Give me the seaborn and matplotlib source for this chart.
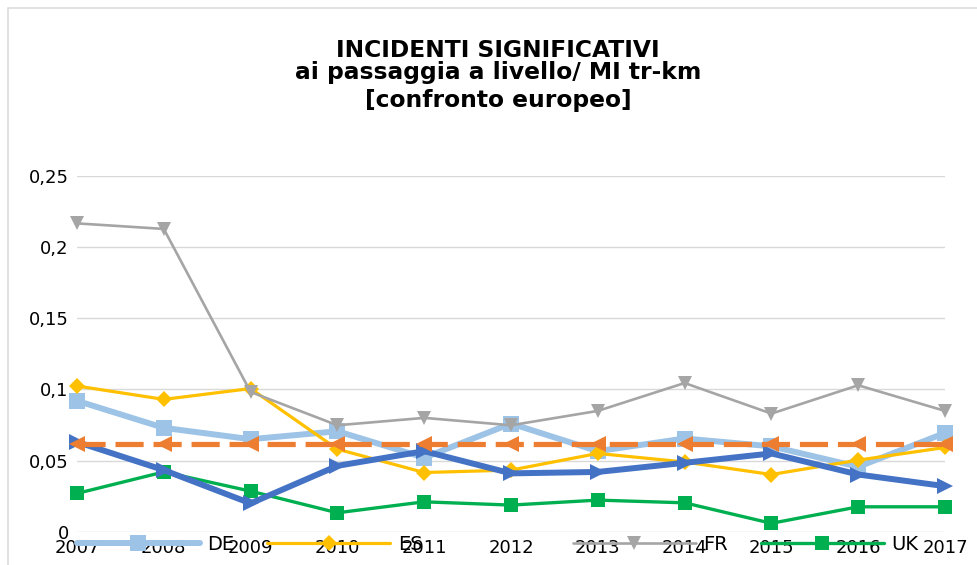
import numpy as np
import pandas as pd
import seaborn as sns
import matplotlib.pyplot as plt
from matplotlib.patches import Rectangle
from matplotlib.ticker import FuncFormatter

# Data
years = [2007, 2008, 2009, 2010, 2011, 2012, 2013, 2014, 2015, 2016, 2017]
de = [0.092, 0.073, 0.065, 0.0706, 0.052, 0.076, 0.0566, 0.0655, 0.060, 0.0456, 0.0694]
es = [0.1024, 0.093, 0.1006, 0.058, 0.0416, 0.0433, 0.055, 0.049, 0.0402, 0.0503, 0.0592]
fr = [0.2167, 0.2128, 0.0982, 0.0748, 0.080, 0.0748, 0.0849, 0.1045, 0.083, 0.1029, 0.0849]
uk = [0.0269, 0.042, 0.0285, 0.0133, 0.021, 0.0187, 0.0222, 0.0203, 0.0059, 0.0175, 0.0175]
it = [0.0631, 0.0433, 0.0199, 0.0463, 0.0566, 0.041, 0.042, 0.0484, 0.055, 0.0402, 0.032]
ue = [0.0613, 0.0613, 0.0613, 0.0613, 0.0613, 0.0613, 0.0613, 0.0613, 0.0613, 0.0613, 0.0613]
title_lines = ["INCIDENTI SIGNIFICATIVI", "ai passaggia a livello/ MI tr-km", "[confronto europeo]"]

sns.set_theme(style="white")
plt.rcParams['font.family'] = ['DejaVu Sans']
plt.rcParams['text.color'] = 'black'

fig = plt.figure(figsize=(9.77, 5.65), dpi=100)
ax = fig.add_axes([77 / 977, 33.3 / 565, 868 / 977, 355.7 / 565])

# series styles (Excel palette)
series = [
    ("DE", de, "#9DC3E6", "s", 4.3, 11, "-"),
    ("ES", es, "#FFC000", "D", 2.3, 8.5, "-"),
    ("FR", fr, "#A5A5A5", "v", 1.9, 10, "-"),
    ("UK", uk, "#00B050", "s", 2.4, 9.4, "-"),
    ("IT", it, "#4472C4", ">", 4.3, 11, "-"),
    ("UE", ue, "#ED7D31", "<", 3.75, 11, (0, (5.4, 1.9))),
]

for name, vals, col, mk, lw, ms, ls in series:
    sns.lineplot(x=years, y=vals, ax=ax, color=col, marker=mk, linewidth=lw,
                 markersize=ms, markeredgewidth=0, markeredgecolor=col,
                 linestyle=ls, label=name, clip_on=False, solid_joinstyle='round')

ax.set_xlim(2007, 2017)
ax.set_ylim(0, 0.25)
ax.set_xticks(years)
ax.set_xticklabels([str(y) for y in years])
ax.set_yticks([0, 0.05, 0.1, 0.15, 0.2, 0.25])
ax.yaxis.set_major_formatter(FuncFormatter(lambda v, p: f"{v:g}".replace('.', ',')))
ax.grid(axis='y', color='#D9D9D9', linewidth=1.0)
ax.grid(axis='x', visible=False)
ax.set_axisbelow(True)
for s in ax.spines.values():
    s.set_visible(False)
ax.tick_params(axis='both', length=0, labelsize=13, colors='black')
ax.tick_params(axis='y', pad=6)
ax.tick_params(axis='x', pad=5)
ax.set_xlabel('')
ax.set_ylabel('')

# legend: only first four entries visible in the reference, in two groups
handles, labels = ax.get_legend_handles_labels()
ax.get_legend().remove()
leg_kw = dict(loc='center left', ncol=2, frameon=False, fontsize=14,
              handlelength=6.3, handletextpad=0.4, columnspacing=1.7,
              borderpad=0, borderaxespad=0, numpoints=1, labelcolor='black')
leg1 = fig.legend(handles[:2], labels[:2], bbox_to_anchor=(77 / 977, 1 - 544 / 565), **leg_kw)
leg2 = fig.legend(handles[2:4], labels[2:4], bbox_to_anchor=(573 / 977, 1 - 544 / 565), **leg_kw)

# title, one line at a time (baselines from the reference)
for line, base in zip(title_lines, [56.7, 79.3, 107.3]):
    fig.text(498 / 977, 1 - base / 565, line, ha='center', va='baseline',
             fontsize=16.8, fontweight='bold', color='black')

# outer chart frame
fig.add_artist(Rectangle((8 / 977, -0.1), 1.2, 1.1 - 8 / 565, transform=fig.transFigure,
                         fill=False, edgecolor='#D9D9D9', linewidth=1.1))

fig.savefig("out.png", dpi=100)
